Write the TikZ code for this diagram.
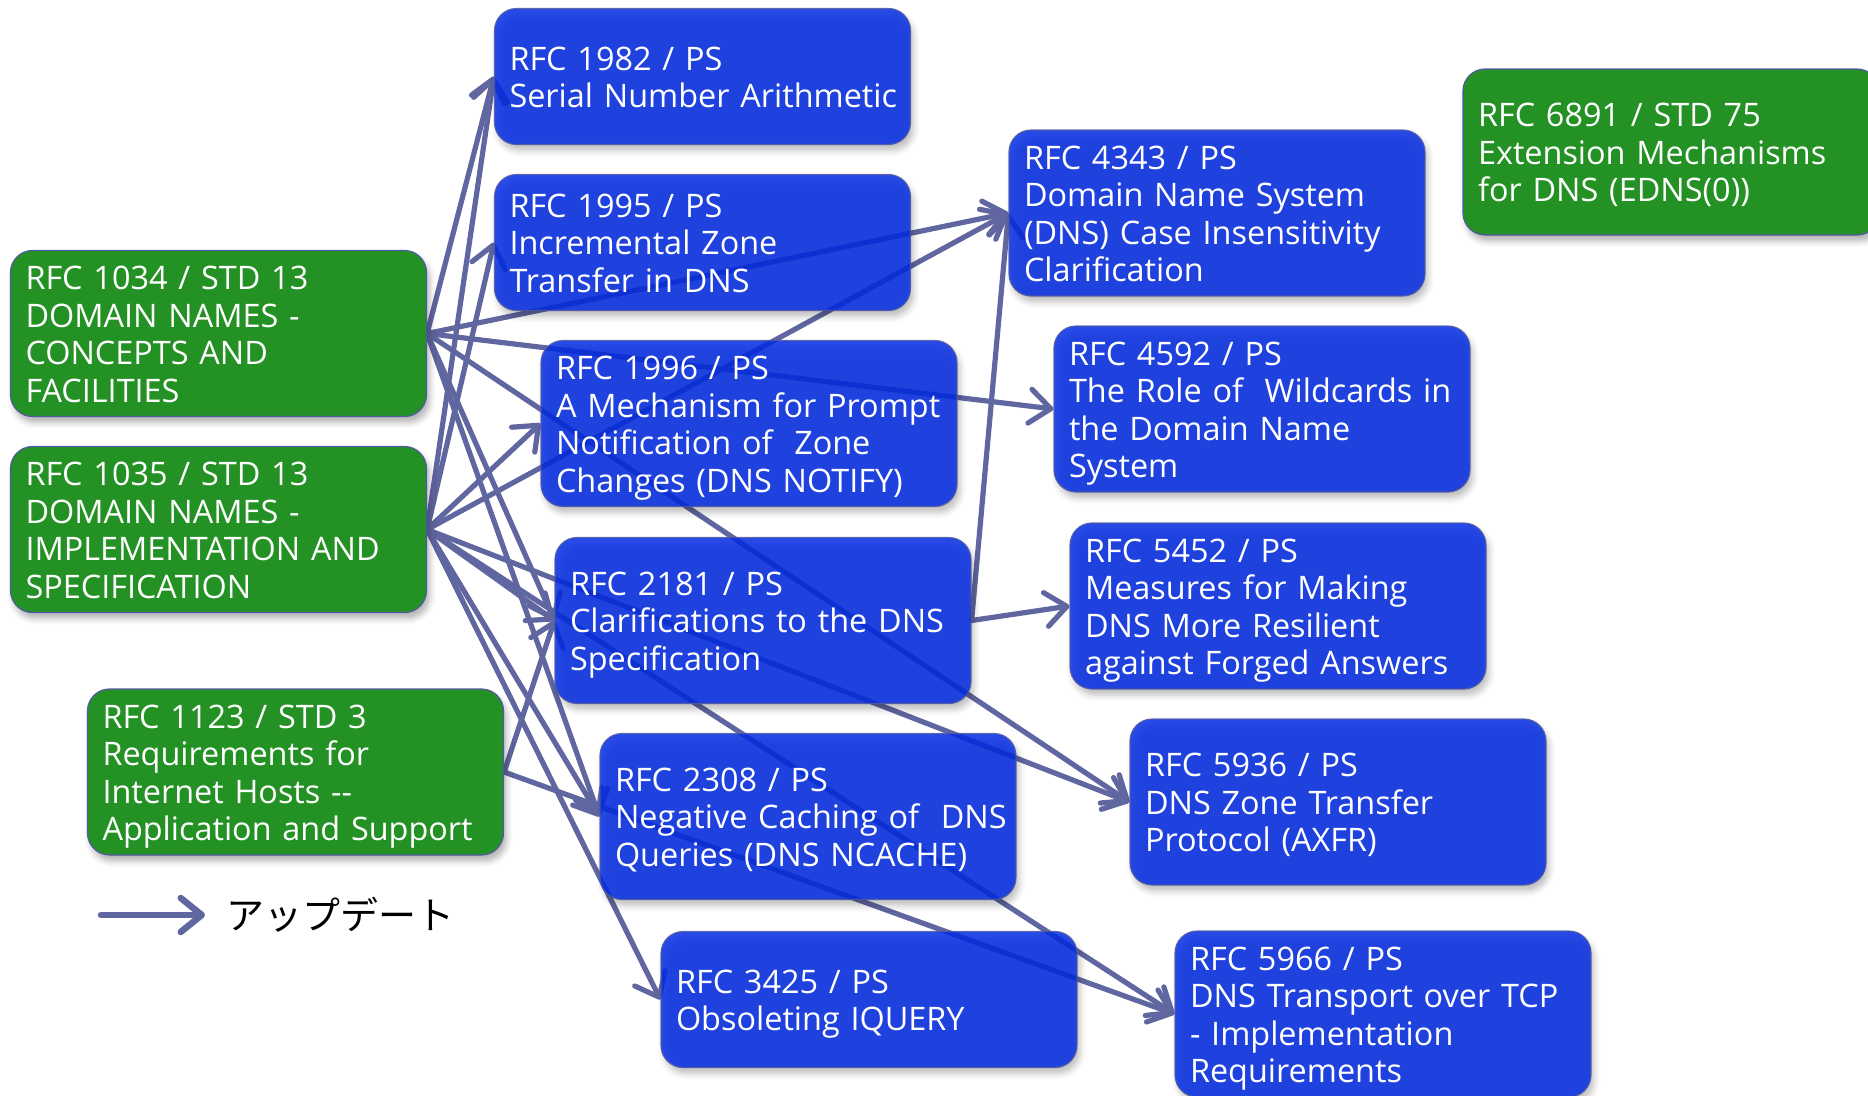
\documentclass[tikz,border=0pt]{standalone}
\usepackage{fontspec}
\setmainfont{Open Sans}
\newfontfamily\jpfont{Noto Sans CJK JP}
\usetikzlibrary{arrows.meta,shadows.blur}
\pgfdeclarelayer{edges}
\pgfsetlayers{edges,main}
\definecolor{rfcblue}{RGB}{4,44,228}
\definecolor{stdgreen}{RGB}{35,145,35}
\definecolor{updline}{RGB}{96,102,160}
\definecolor{boxrim}{RGB}{80,90,160}
% one text line with fixed height and depth, so every card centres alike
\newcommand\bl[1]{\raisebox{0pt}[26pt][1.2pt]{#1}}

\begin{document}
\begin{tikzpicture}[x=1pt,y=-1pt,
  card/.style={rounded corners=22pt, draw=boxrim, line width=1.2pt, text=white,
    text width=386pt, inner xsep=15pt, inner ysep=0pt, align=left,
    font=\fontsize{32.4pt}{37.5pt}\selectfont,
    blur shadow={shadow xshift=3pt, shadow yshift=-6pt, shadow blur radius=6pt, shadow opacity=30}},
  ps/.style={card, fill=rfcblue, fill opacity=0.85, draw opacity=0.85, text opacity=1},
  std/.style={card, fill=stdgreen},
  short/.style={minimum height=136pt},
  tall/.style={minimum height=166pt},
  upd/.style={draw=updline, line width=5.2pt, line cap=round,
    -{Straight Barb[length=21pt,width=34pt,round]}}
]
\useasboundingbox (0,0) rectangle (1868,1095);

% updated standards (left column and top right)
\node[std,tall] (n1034) at (218.5,333.5) {\bl{RFC 1034 / STD 13}\\\bl{DOMAIN NAMES -}\\\bl{CONCEPTS AND}\\\bl{FACILITIES}};
\node[std,tall] (n1035) at (218.5,529.5) {\bl{RFC 1035 / STD 13}\\\bl{DOMAIN NAMES -}\\\bl{IMPLEMENTATION AND}\\\bl{SPECIFICATION}};
\node[std,tall] (n1123) at (295.5,772) {\bl{RFC 1123 / STD 3}\\\bl{Requirements for}\\\bl{Internet Hosts -{}-}\\\bl{Application and Support}};
\node[std,tall] (n6891) at (1671,152) {\bl{RFC 6891 / STD 75}\\\bl{Extension Mechanisms}\\\bl{for DNS (EDNS(0))}};

% proposed standards
\node[ps,short] (n1982) at (702.5,76.5) {\bl{RFC 1982 / PS}\\\bl{Serial Number Arithmetic}};
\node[ps,short] (n1995) at (702.5,242.5) {\bl{RFC 1995 / PS}\\\bl{Incremental Zone}\\\bl{Transfer in DNS}};
\node[ps,tall] (n1996) at (749,423.5) {\bl{RFC 1996 / PS}\\\bl{A Mechanism for Prompt}\\\bl{Notification of~ Zone}\\\bl{Changes (DNS NOTIFY)}};
\node[ps,tall] (n2181) at (763,620.5) {\bl{RFC 2181 / PS}\\\bl{Clarifications to the DNS}\\\bl{Specification}};
\node[ps,tall] (n2308) at (808,816.5) {\bl{RFC 2308 / PS}\\\bl{Negative Caching of~ DNS}\\\bl{Queries (DNS NCACHE)}};
\node[ps,short] (n3425) at (869,999.5) {\bl{RFC 3425 / PS}\\\bl{Obsoleting IQUERY}};
\node[ps,tall] (n4343) at (1217,213) {\bl{RFC 4343 / PS}\\\bl{Domain Name System}\\\bl{(DNS) Case Insensitivity}\\\bl{Clarification}};
\node[ps,tall] (n4592) at (1262,409) {\bl{RFC 4592 / PS}\\\bl{The Role of~ Wildcards in}\\\bl{the Domain Name}\\\bl{System}};
\node[ps,tall] (n5452) at (1278,606) {\bl{RFC 5452 / PS}\\\bl{Measures for Making}\\\bl{DNS More Resilient}\\\bl{against Forged Answers}};
\node[ps,tall] (n5936) at (1338,802) {\bl{RFC 5936 / PS}\\\bl{DNS Zone Transfer}\\\bl{Protocol (AXFR)}};
\node[ps,tall] (n5966) at (1383,1014) {\bl{RFC 5966 / PS}\\\bl{DNS Transport over TCP}\\\bl{- Implementation}\\\bl{Requirements}};

% update relations, behind the cards
\begin{pgfonlayer}{edges}
\foreach \s/\t in {1034/1982, 1034/4343, 1034/4592, 1034/2181, 1034/2308, 1034/5936,
                   1035/1982, 1035/1995, 1035/1996, 1035/2181, 1035/2308, 1035/3425,
                   1035/4343, 1035/5936, 1035/5966,
                   1123/2181, 1123/5966,
                   2181/4343, 2181/5452}
  \draw[upd] (n\s.east) -- (n\t.west);
\end{pgfonlayer}

% legend
\coordinate (legA) at (101,915);
\coordinate (legB) at (205,915);
\draw[upd, line width=6.5pt] (legA) -- (legB);
\node[anchor=west, inner sep=0pt, font=\jpfont\fontsize{38pt}{38pt}\selectfont] (legtxt) at (226,915) {アップデート};
\end{tikzpicture}
\end{document}
